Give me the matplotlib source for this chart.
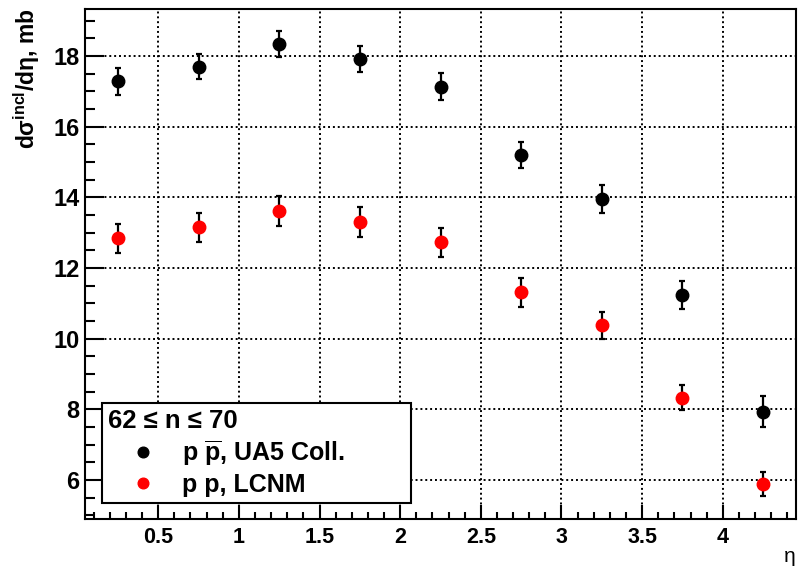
import numpy as np
import matplotlib
matplotlib.use("Agg")
import matplotlib.pyplot as plt
from matplotlib.ticker import MultipleLocator

# --- datos ---
eta = [0.25, 0.75, 1.25, 1.75, 2.25, 2.75, 3.25, 3.75, 4.25]
ua5_val = [17.28, 17.70, 18.33, 17.91, 17.13, 15.21, 13.95, 11.23, 7.94]
ua5_err = [0.37, 0.36, 0.37, 0.37, 0.38, 0.37, 0.40, 0.40, 0.43]
lcnm_val = [12.84, 13.15, 13.61, 13.31, 12.73, 11.31, 10.38, 8.33, 5.89]
lcnm_err = [0.40, 0.41, 0.42, 0.42, 0.41, 0.40, 0.38, 0.36, 0.35]

legend_title = "62 \u2264 n \u2264 70"
label_ua5 = r"p $\overline{\mathrm{p}}$, UA5 Coll."
label_lcnm = "p p, LCNM"

plt.rcParams['font.family'] = ['Liberation Sans', 'DejaVu Sans']
plt.rcParams['font.weight'] = 'bold'
plt.rcParams['mathtext.fontset'] = 'custom'
plt.rcParams['mathtext.rm'] = 'Liberation Sans:bold'
plt.rcParams['mathtext.it'] = 'Liberation Sans:bold'
plt.rcParams['mathtext.bf'] = 'Liberation Sans:bold'

fig = plt.figure(figsize=(8.07, 5.67), dpi=100)
ax = fig.add_axes([0.1053, 0.0847, 0.8811, 0.8994])

# barras de error (negras en ambas series)
ax.errorbar(eta, ua5_val, yerr=ua5_err, fmt='none', ecolor='black',
            elinewidth=1.6, capsize=2, capthick=1.6, zorder=3)
ax.errorbar(eta, lcnm_val, yerr=lcnm_err, fmt='none', ecolor='black',
            elinewidth=1.6, capsize=2, capthick=1.6, zorder=3)
h1, = ax.plot(eta, ua5_val, 'o', color='black', markersize=9, zorder=4, label=label_ua5)
h2, = ax.plot(eta, lcnm_val, 'o', color='red', markersize=9, zorder=4, label=label_lcnm)

ax.set_xlim(0.046, 4.454)
ax.set_ylim(4.9, 19.33)

ax.xaxis.set_major_locator(MultipleLocator(0.5))
ax.xaxis.set_minor_locator(MultipleLocator(0.1))
ax.yaxis.set_major_locator(MultipleLocator(2))
ax.yaxis.set_minor_locator(MultipleLocator(0.5))
ax.set_xticks([0.5, 1, 1.5, 2, 2.5, 3, 3.5, 4])
ax.set_xticklabels(['0.5', '1', '1.5', '2', '2.5', '3', '3.5', '4'])

ax.tick_params(axis='x', which='major', direction='in', length=10, width=1.5,
               labelsize=15.5, pad=6)
ax.tick_params(axis='x', which='minor', direction='in', length=5, width=1.5)
ax.tick_params(axis='y', which='major', direction='in', length=14, width=1.5,
               labelsize=17, pad=4)
ax.tick_params(axis='y', which='minor', direction='in', length=7, width=1.5)

for s in ax.spines.values():
    s.set_linewidth(1.5)

ax.grid(True, which='major', color='black', linestyle=(0, (1, 1.5)), linewidth=1.4)
ax.set_axisbelow(True)

ax.set_ylabel("d\u03c3$^{\\mathrm{incl}}$/d\u03b7, mb", fontsize=16.5, fontweight='bold', loc='top')
ax.yaxis.set_label_coords(-0.06, 1.0)
ax.set_xlabel("\u03b7", fontsize=15, fontweight='normal', loc='right')
ax.xaxis.set_label_coords(1.0, -0.055)

leg = ax.legend(handles=[h1, h2], title=legend_title, loc='lower left',
                bbox_to_anchor=(0.024, 0.031, 0.4345, 0.19), mode='expand',
                borderaxespad=0, fancybox=False, framealpha=1, edgecolor='black',
                prop={'size': 18, 'weight': 'bold'}, title_fontproperties={'size': 18.5, 'weight': 'bold'},
                alignment='left', handlelength=2.8, handletextpad=0.15, labelspacing=0.2,
                borderpad=0.25, markerscale=0.85)
leg.get_frame().set_linewidth(1.5)
leg.set_zorder(5)

fig.savefig("out.png", dpi=100)
